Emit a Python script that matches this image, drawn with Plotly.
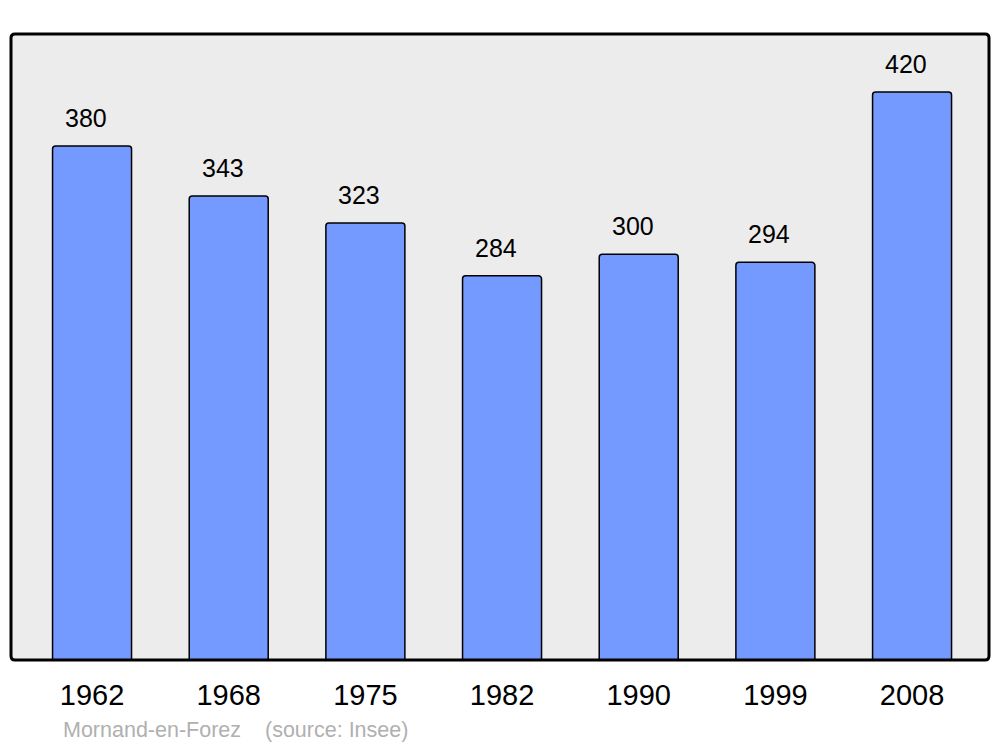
import plotly.graph_objects as go

years = ["1962", "1968", "1975", "1982", "1990", "1999", "2008"]
population = [380, 343, 323, 284, 300, 294, 420]
place = "Mornand-en-Forez"
source = "(source: Insee)"

FONT = "Liberation Sans, Arial, sans-serif"
# page has an 8px body margin; figure sized so plot area lands where the reference has it
W, H = 984, 739
l, r, t, b = 3, 3, 26, 87
pw, ph = W - l - r, H - t - b

fig = go.Figure()
fig.add_trace(go.Bar(
    x=list(range(len(years))),
    y=population,
    width=0.578,
    marker=dict(color="#7499ff", line=dict(color="#000000", width=1.5), cornerradius=3),
    hoverinfo="skip",
))

for i, v in enumerate(population):
    fig.add_annotation(x=i, y=v, text=str(v), showarrow=False, xref="x", yref="y",
                       yanchor="middle", yshift=28, xshift=-6,
                       font=dict(family=FONT, size=25, color="#000000"))

def px_to_paper(xp, yp):
    # xp, yp are page pixel coordinates
    return (xp - 8 - l) / pw, 1 - (yp - 8 - t) / ph

for txt, xp in [(place, 61), (source, 263)]:
    xx, yy = px_to_paper(xp, 730)
    fig.add_annotation(x=xx, y=yy, xref="paper", yref="paper", text=txt, showarrow=False,
                       xanchor="left", yanchor="middle",
                       font=dict(size=21.5, color="#b0b0b0", family=FONT))

fig.update_layout(
    width=W, height=H,
    margin=dict(l=l, r=r, t=t, b=b),
    paper_bgcolor="#ffffff",
    plot_bgcolor="#ececec",
    showlegend=False,
    font=dict(family=FONT),
    xaxis=dict(
        range=[-0.593, 6.563],
        tickmode="array", tickvals=list(range(len(years))), ticktext=years,
        ticks="outside", ticklen=9, tickcolor="rgba(0,0,0,0)",
        tickfont=dict(size=29, color="#000000"),
        showgrid=False, zeroline=False, showline=False,
    ),
    yaxis=dict(range=[0, 462.8], showticklabels=False, showgrid=False, zeroline=False, showline=False),
)

# rounded frame around the plot area
rad = 4
rx, ry = rad / pw, rad / ph
path = (f"M {rx},0 L {1-rx},0 Q 1,0 1,{ry} L 1,{1-ry} Q 1,1 {1-rx},1 "
        f"L {rx},1 Q 0,1 0,{1-ry} L 0,{ry} Q 0,0 {rx},0 Z")
fig.add_shape(type="path", xref="paper", yref="paper", path=path,
              line=dict(color="#000000", width=3), layer="above")

fig.write_html("out.html")
